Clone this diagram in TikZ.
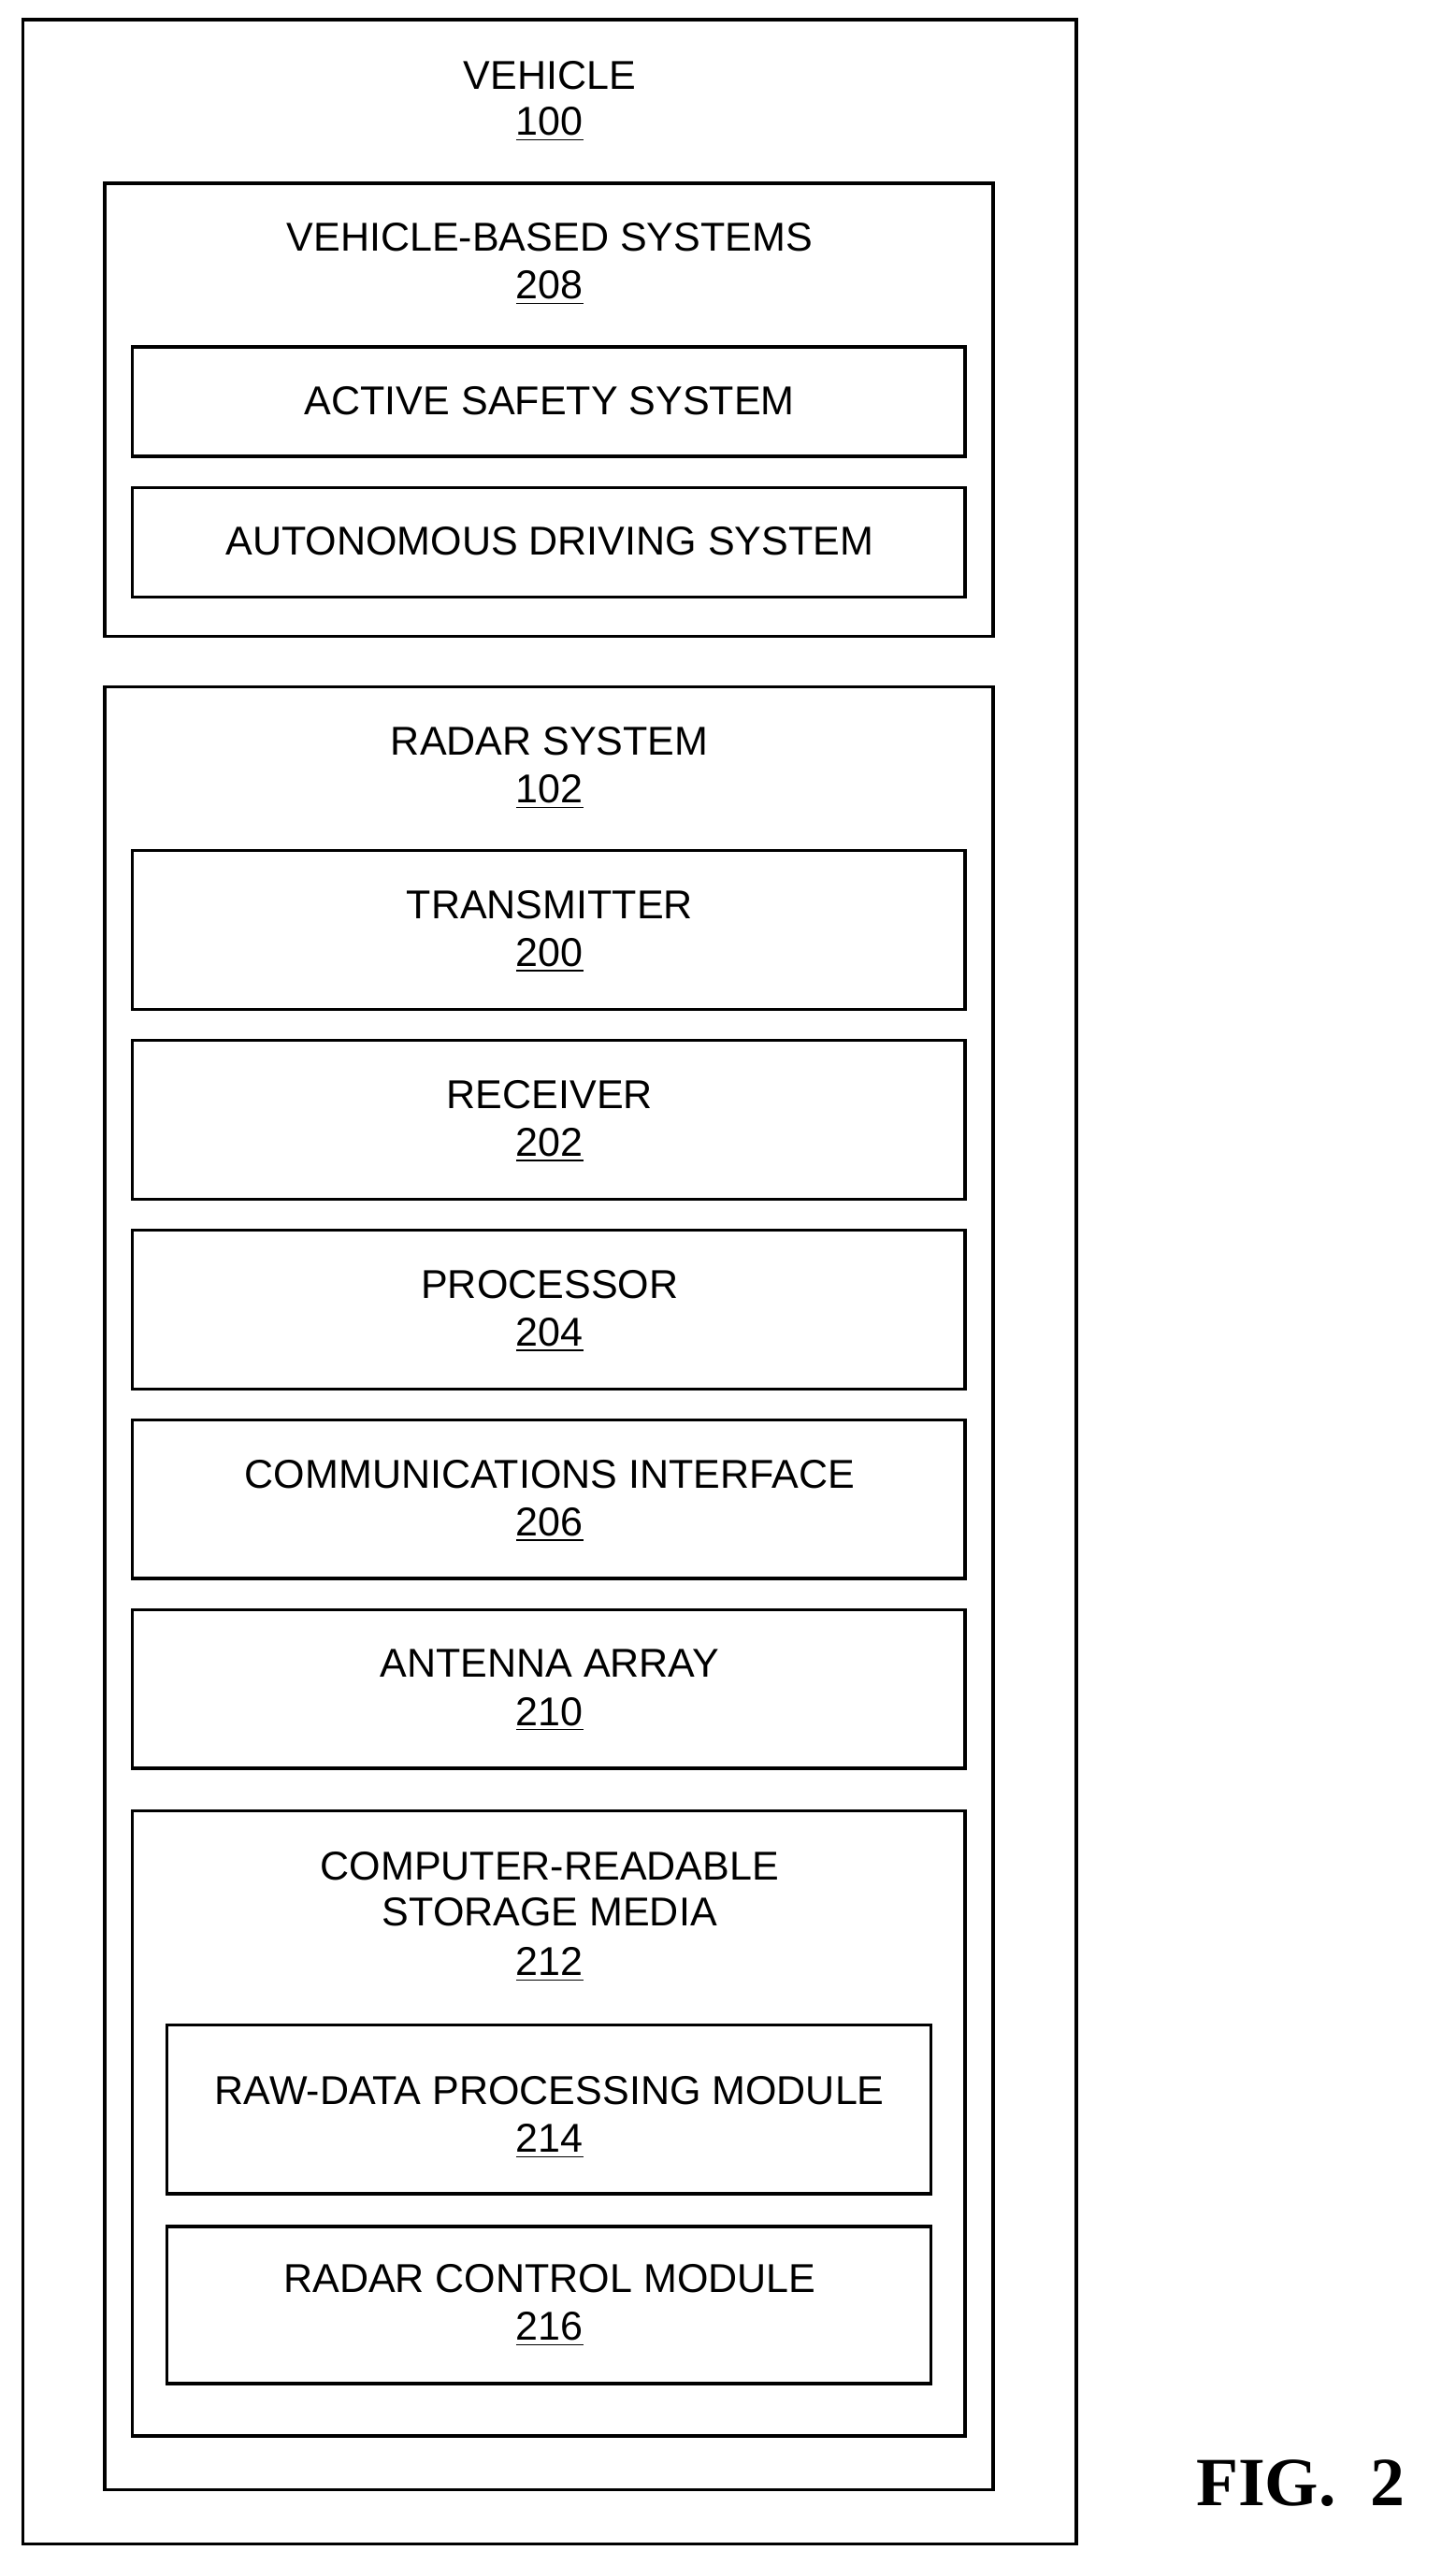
\documentclass[tikz,border=0pt]{standalone}
\usepackage{fontspec}
\setmainfont{Liberation Sans}
\newfontfamily\figfont{Liberation Serif}
\tikzset{
    blk/.style={draw, line width=1.1pt},
    lbl/.style={font=\fontsize{14}{16}\selectfont, align=center, inner sep=0pt}
}
\begin{document}
\begin{tikzpicture}[x=0.2mm, y=-0.2mm]
    \useasboundingbox (0,0) rectangle (890,1568);

    % outer boxes
    \draw [blk] (14,12) rectangle (658,1555);
    \node [lbl] (vehicle) at (336,46) {VEHICLE};
    \node [lbl] (vehiclenum) at (336,76) {\underline{100}};

    \draw [blk] (64,112) rectangle (607,389);
    \node [lbl] (vbs) at (336,145) {VEHICLE-BASED SYSTEMS};
    \node [lbl] (vbsnum) at (336,176) {\underline{208}};

    \draw [blk] (81,212) rectangle (590,279);
    \node [lbl] (safety) at (336,245) {ACTIVE SAFETY SYSTEM};
    \draw [blk] (81,298) rectangle (590,365);
    \node [lbl] (auto) at (336,331) {AUTONOMOUS DRIVING SYSTEM};

    % radar system
    \draw [blk] (64,420) rectangle (607,1522);
    \node [lbl] (radar) at (336,453) {RADAR SYSTEM};
    \node [lbl] (radarnum) at (336,484) {\underline{102}};

    \foreach \y/\name/\num in {520/TRANSMITTER/200, 636/RECEIVER/202,
        752/PROCESSOR/204, 868/COMMUNICATIONS INTERFACE/206,
        984/ANTENNA ARRAY/210} {
        \draw [blk] (81,\y) rectangle (590,\y+97);
        \node [lbl] (m\num) at (336,\y+33) {\name};
        \node [lbl] (n\num) at (336,\y+64) {\underline{\num}};
    }

    % storage media
    \draw [blk] (81,1107) rectangle (590,1489);
    \node [lbl] (crsm) at (336,1155) {COMPUTER-READABLE\\STORAGE MEDIA};
    \node [lbl] (crsmnum) at (336,1201) {\underline{212}};

    \draw [blk] (102,1238) rectangle (569,1341);
    \node [lbl] (raw) at (336,1278) {RAW-DATA PROCESSING MODULE};
    \node [lbl] (rawnum) at (336,1309) {\underline{214}};
    \draw [blk] (102,1361) rectangle (569,1457);
    \node [lbl] (ctrl) at (336,1393) {RADAR CONTROL MODULE};
    \node [lbl] (ctrlnum) at (336,1424) {\underline{216}};

    \node [inner sep=0pt, font=\figfont\bfseries\fontsize{24}{28}\selectfont] (fig) at (795,1518) {FIG.~~2};
\end{tikzpicture}
\end{document}
